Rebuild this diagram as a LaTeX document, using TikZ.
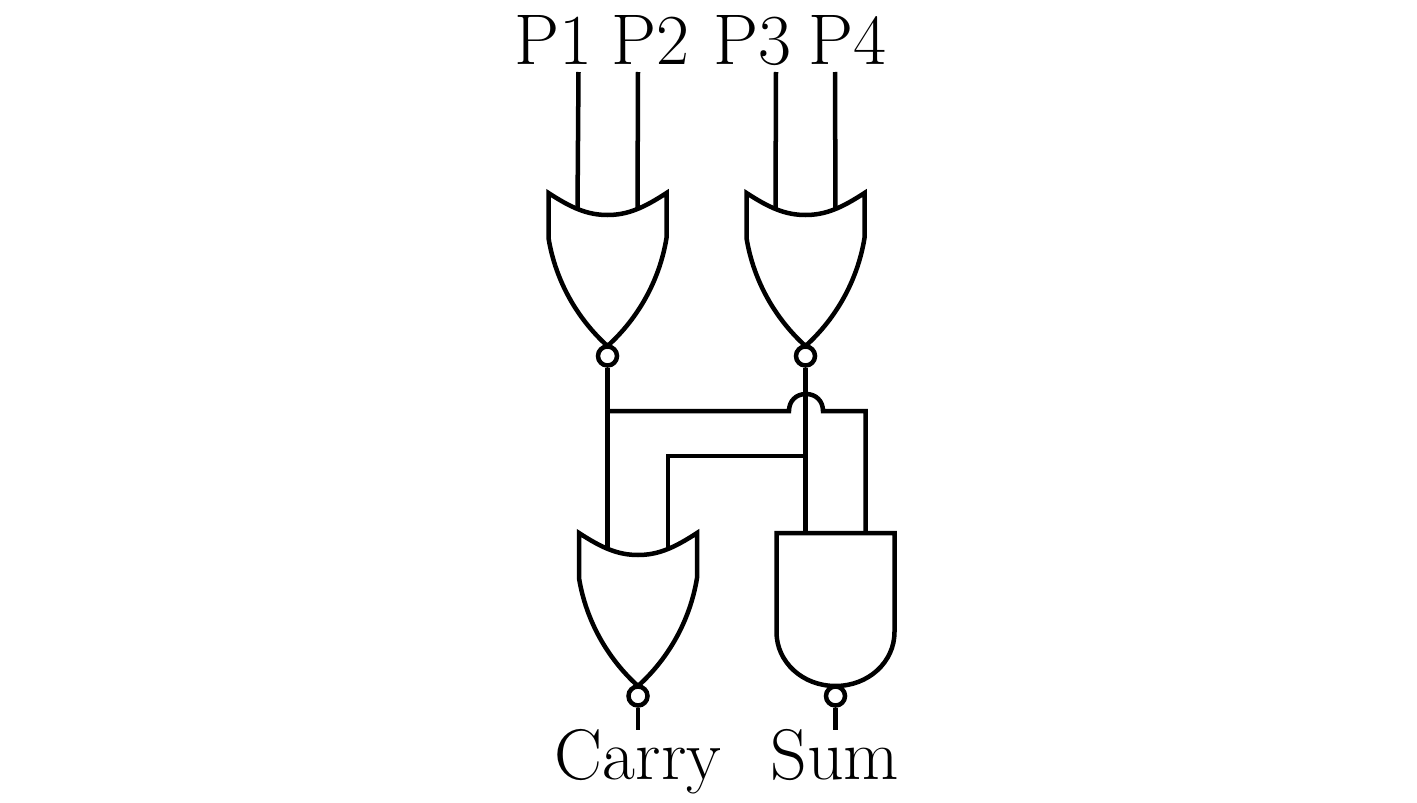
\documentclass[tikz,border=0pt]{standalone}
\usetikzlibrary{calc}

\tikzset{
  wire/.style={line width=0.045cm, line join=miter},
  bubble/.style={circle, draw, line width=0.045cm, inner sep=0pt, minimum size=0.19cm},
  label/.style={anchor=base, inner sep=0pt, font=\fontsize{20.4}{24}\selectfont},
  norgate/.pic={
    \draw [wire] (-59,0) -- (-59,45)
      .. controls (-52,88) and (-30,126) .. (0,153)
      .. controls (30,126) and (52,88) .. (59,45)
      -- (59,0)
      .. controls (36,15) and (20,22) .. (0,22)
      .. controls (-20,22) and (-36,15) .. cycle;
    \node [bubble] (-out) at (0,163) {};
    \coordinate (-in1) at (-30,16);
    \coordinate (-in2) at (30,16);
  },
  nandgate/.pic={
    \draw [wire] (-59,0) -- (-59,99)
      .. controls (-59,129) and (-33,153) .. (0,153)
      .. controls (33,153) and (59,129) .. (59,99)
      -- (59,0) -- cycle;
    \node [bubble] (-out) at (0,163) {};
    \coordinate (-in1) at (-30,0);
    \coordinate (-in2) at (30,0);
  }
}

\begin{document}
\begin{tikzpicture}[x=0.01cm, y=-0.01cm]
  \useasboundingbox (0,0) rectangle (1417,803);

  \node [label] (p1) at (553.5,64.5) {P1};
  \node [label] (p2) at (650,64.5) {P2};
  \node [label] (p3) at (752,64.5) {P3};
  \node [label] (p4) at (847,64.5) {P4};

  \coordinate (p1end) at (578.5,72);
  \coordinate (p2end) at (638,72);
  \coordinate (p3end) at (776,72);
  \coordinate (p4end) at (835,72);

  \pic (nora) at (607.5,193) {norgate};
  \pic (norb) at (805.5,193) {norgate};
  \pic (carrygate) at (638,533) {norgate};
  \pic (sumgate) at (835.5,533) {nandgate};

  \node [label] (carry) at (638,779.5) {Carry};
  \node [label] (sum) at (835,779.5) {Sum};

  \coordinate (carryend) at (638,730);
  \coordinate (sumend) at (835.5,730);

  % inputs
  \draw [wire] (p1end) -- (nora-in1);
  \draw [wire] (p2end) -- (nora-in2);
  \draw [wire] (p3end) -- (norb-in1);
  \draw [wire] (p4end) -- (norb-in2);

  % crossing wires
  \coordinate (hopa) at (789,411);
  \coordinate (hopb) at (823,411);
  \draw [wire] (nora-out.south) -- (nora-out.south |- carrygate-in1);
  \draw [wire] (nora-out.south |- hopa) -- (hopa)
    .. controls (789,401) and (796,394) .. (806,394)
    .. controls (816,394) and (823,401) .. (hopb)
    -- (sumgate-in2 |- hopb) -- (sumgate-in2);
  \draw [wire] (norb-out.south) -- (norb-out.south |- sumgate-in1);
  \coordinate (jointb) at (805.5,456);
  \draw [wire] (jointb) -- (carrygate-in2 |- jointb) -- (carrygate-in2);

  % outputs
  \draw [wire] (carrygate-out.south) -- (carryend);
  \draw [wire] (sumgate-out.south) -- (sumend);
\end{tikzpicture}
\end{document}
